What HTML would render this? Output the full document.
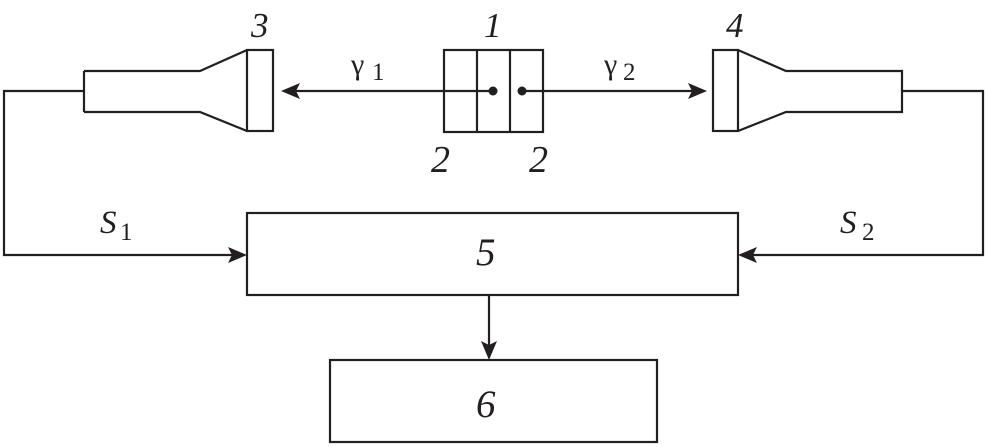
<!DOCTYPE html>
<html><head><meta charset="utf-8"><style>
html,body{margin:0;padding:0;background:#fff;}
svg{display:block;}
.t{font-family:"Liberation Serif",Tinos,"Times New Roman",Times,"Nimbus Roman","Nimbus Roman No9 L",FreeSerif,"DejaVu Serif",serif;fill:#231f20;}
.i{font-style:italic;}
.n{font-style:normal;}
</style></head><body>
<svg width="987" height="447" viewBox="0 0 987 447" xmlns="http://www.w3.org/2000/svg">
<g fill="none" stroke="#231f20" stroke-width="2.2">
  <path d="M84 71 H200 L247 50 M84 112 H200 L247 131"/>
  <line x1="84" y1="71" x2="84" y2="112"/>
  <rect x="247" y="50" width="26" height="81"/>
  <rect x="713" y="50" width="25" height="81"/>
  <path d="M738 50 L786 71 H902 V112 H786 L738 131"/>
  <rect x="444" y="50" width="99" height="82"/>
  <line x1="477" y1="50" x2="477" y2="132"/>
  <line x1="510" y1="50" x2="510" y2="132"/>
  <line x1="295" y1="91" x2="493" y2="91"/>
  <line x1="522" y1="91" x2="692" y2="91"/>
  <path d="M84 91 H4 V255 H235"/>
  <path d="M902 91 H983 V255 H750"/>
  <rect x="247" y="213" width="491" height="82"/>
  <line x1="489" y1="295" x2="489" y2="348"/>
  <rect x="330" y="360" width="327" height="82"/>
</g>
<g fill="#231f20">
  <path d="M281 91 L300 83 L296 91 L300 99 Z"/>
  <path d="M707 91 L688 83 L692 91 L688 99 Z"/>
  <path d="M247 255 L228 247 L232 255 L228 263 Z"/>
  <path d="M738 255 L757 247 L753 255 L757 263 Z"/>
  <path d="M489 360 L481 341 L489 345 L497 341 Z"/>
  <circle cx="493" cy="91" r="4.5"/>
  <circle cx="522" cy="91" r="4.5"/>
</g>
<text class="t i" x="251" y="37" font-size="35">3</text>
<text class="t i" x="484" y="37" font-size="35">1</text>
<text class="t i" x="726" y="37" font-size="35">4</text>
<text class="t i" x="431" y="172" font-size="38">2</text>
<text class="t i" x="529" y="172" font-size="38">2</text>
<text class="t i" x="476" y="265" font-size="39">5</text>
<text class="t i" x="476" y="417" font-size="39">6</text>
<text class="t i" x="100" y="233" font-size="33">S</text>
<text class="t i" x="840" y="233" font-size="33">S</text>
<text class="t n" x="120" y="240" font-size="25">1</text>
<text class="t n" x="862" y="240" font-size="25">2</text>
<text class="t n" x="351" y="74" font-size="30">γ</text>
<text class="t n" x="372" y="80" font-size="25">1</text>
<text class="t n" x="604" y="74" font-size="30">γ</text>
<text class="t n" x="623" y="80" font-size="25">2</text>
</svg>
</body></html>
